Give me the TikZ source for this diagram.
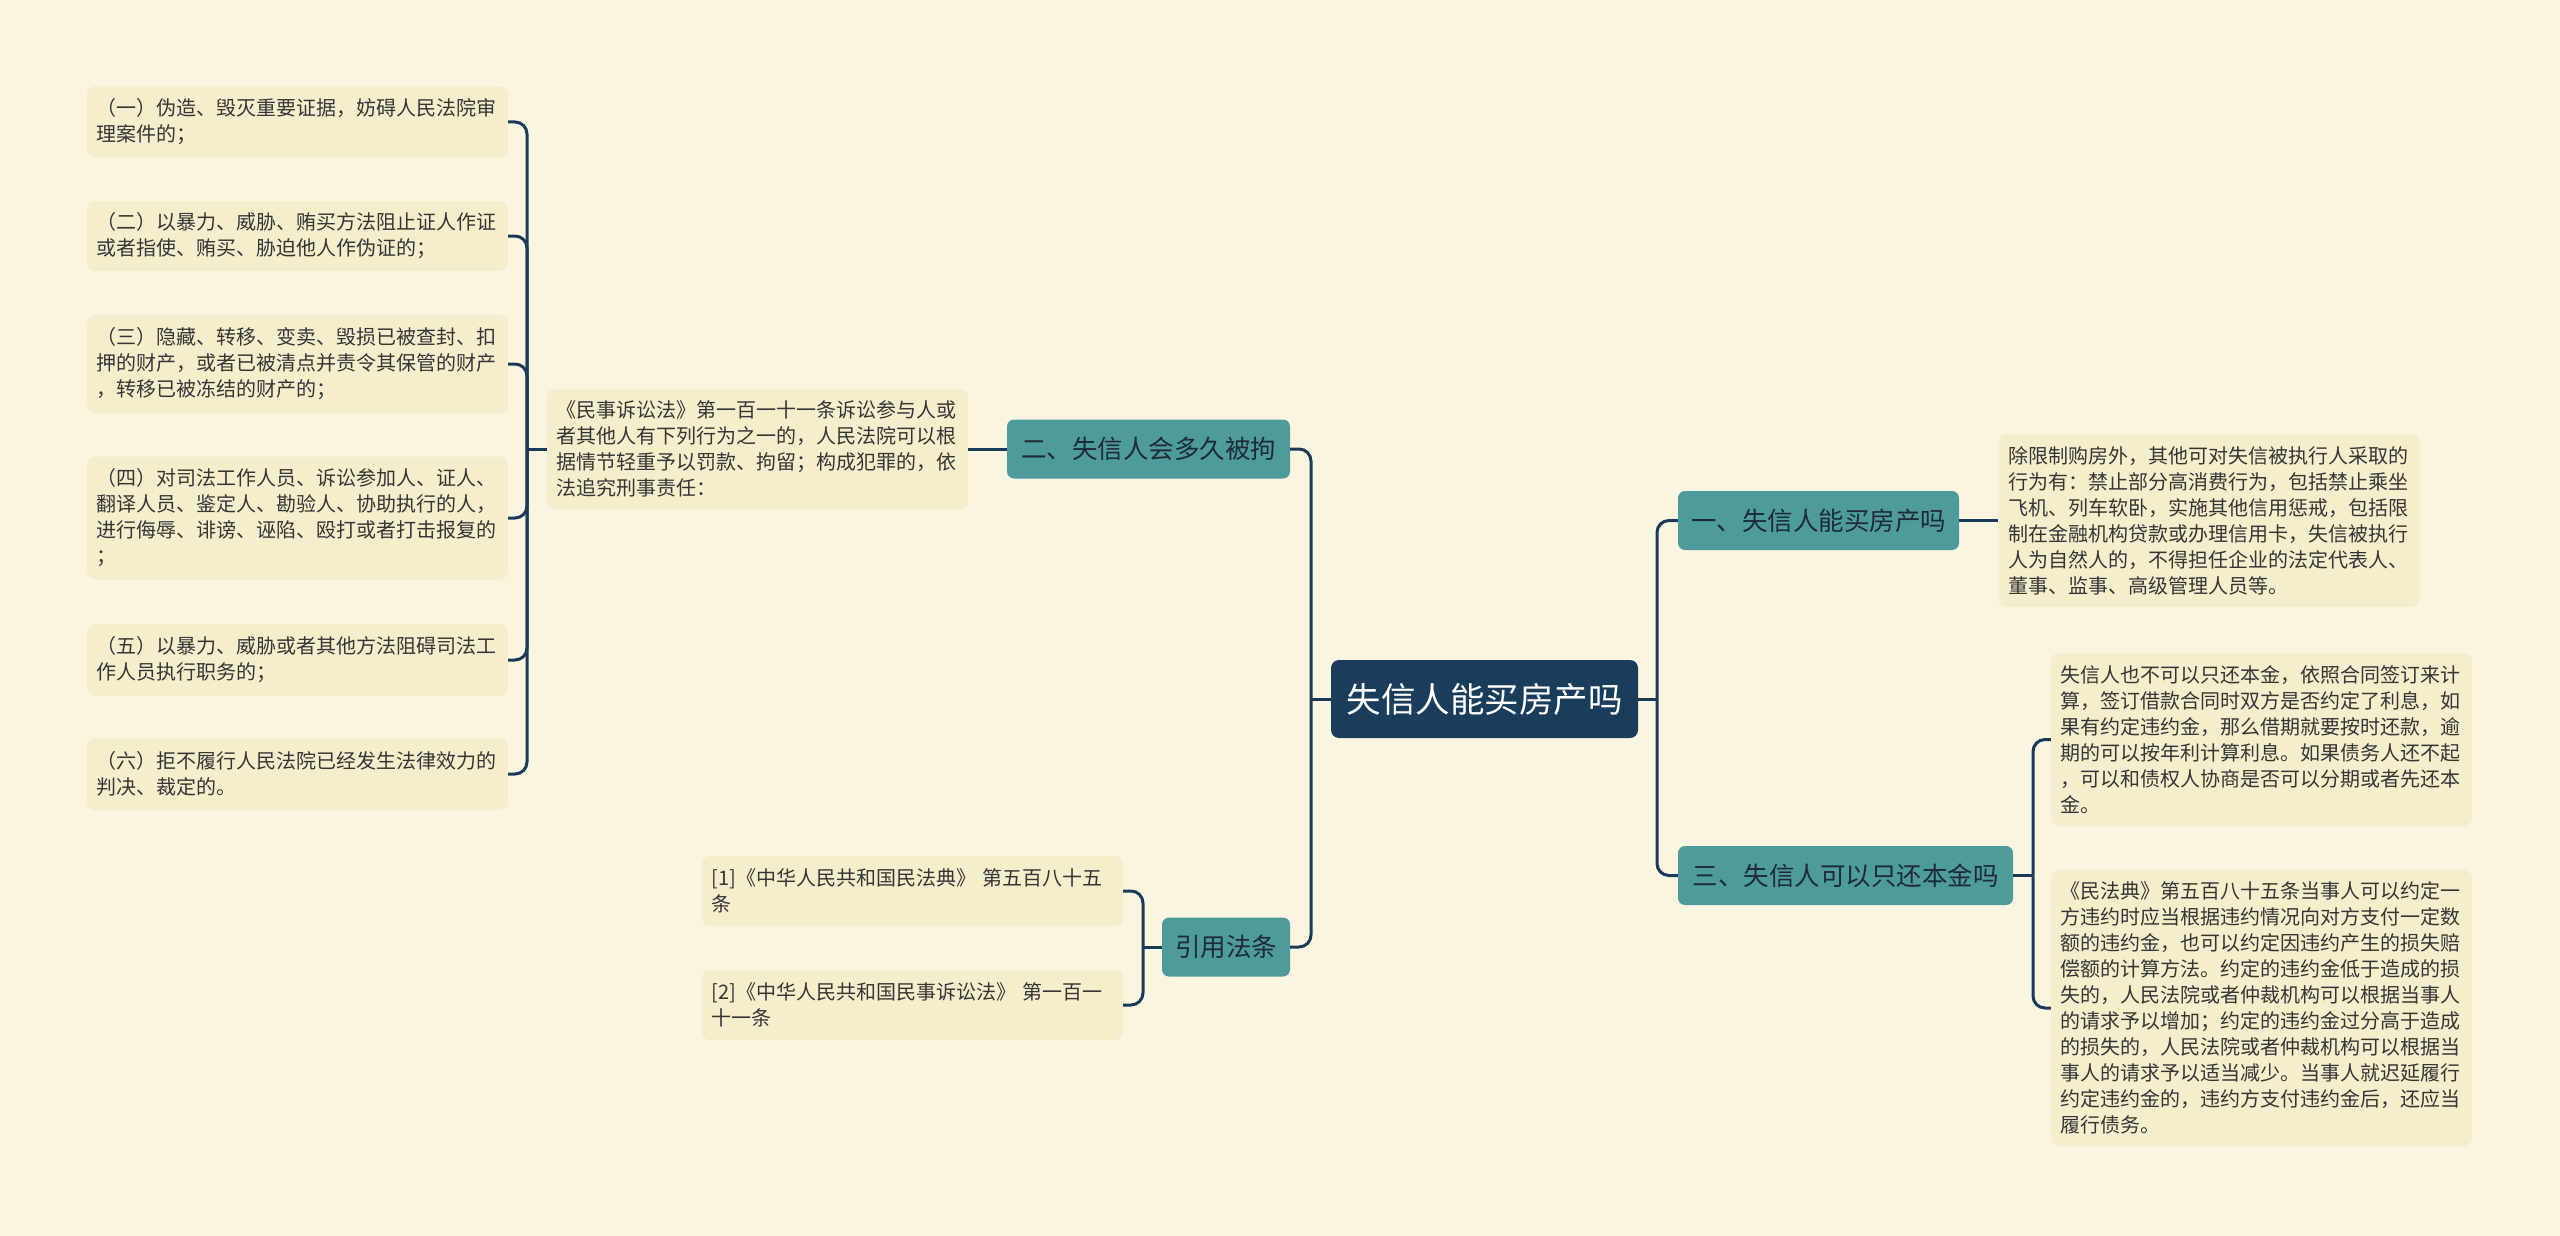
\documentclass[tikz,border=0pt]{standalone}
\usepackage{fontspec}
\setmainfont{Noto Sans CJK SC}
\definecolor{bgc}{HTML}{FAF5E1}
\definecolor{leafc}{HTML}{F5EECC}
\definecolor{tealc}{HTML}{4E9B9B}
\definecolor{navyc}{HTML}{1A3D5C}
\definecolor{linec}{HTML}{1B3A58}
\definecolor{txtc}{HTML}{353535}
\definecolor{brtxt}{HTML}{1E2B36}
\tikzset{
  leaf/.style={fill=leafc, rounded corners=8pt, text width=402pt, inner xsep=9.5pt, inner ysep=0pt, align=left, font=\fontsize{20}{26}\selectfont, text=txtc},
  branch/.style={fill=tealc, rounded corners=7pt, inner sep=0pt, font=\fontsize{25.5}{30}\selectfont, text=brtxt},
  root/.style={fill=navyc, rounded corners=8pt, inner sep=0pt, font=\fontsize{34.5}{40}\selectfont, text=white},
  conn/.style={draw=linec, line width=3pt, rounded corners=12pt}
}
\begin{document}
\begin{tikzpicture}[x=1pt,y=-1pt]
\fill[bgc] (0,0) rectangle (2560,1236);
\useasboundingbox (0,0) rectangle (2560,1236);

\coordinate (spL) at (1311,0);
\coordinate (spR) at (1657,0);
\coordinate (sp3) at (2033,0);
\coordinate (spS) at (527,0);
\coordinate (sp4) at (1143,0);

% root
\node[root, minimum width=307pt, minimum height=78pt] (C) at (1484.5,699) {失信人能买房产吗};

% branches
\node[branch, minimum width=281pt, minimum height=59pt] (B1) at (1818.5,520.5) {一、失信人能买房产吗};
\node[branch, minimum width=335pt, minimum height=59pt] (B3) at (1845.5,875.5) {三、失信人可以只还本金吗};
\node[branch, minimum width=283pt, minimum height=59pt] (B2) at (1148.5,449) {二、失信人会多久被拘};
\node[branch, minimum width=128pt, minimum height=59pt] (B4) at (1226,947) {引用法条};

% right leaves
\node[leaf, minimum height=173pt] (L1) at (2209,520.5) {除限制购房外，其他可对失信被执行人采取的\\行为有：禁止部分高消费行为，包括禁止乘坐\\飞机、列车软卧，实施其他信用惩戒，包括限\\制在金融机构贷款或办理信用卡，失信被执行\\人为自然人的，不得担任企业的法定代表人、\\董事、监事、高级管理人员等。};
\node[leaf, minimum height=173pt] (L31) at (2261.5,739.5) {失信人也不可以只还本金，依照合同签订来计\\算，签订借款合同时双方是否约定了利息，如\\果有约定违约金，那么借期就要按时还款，逾\\期的可以按年利计算利息。如果债务人还不起\\，可以和债权人协商是否可以分期或者先还本\\金。};
\node[leaf, minimum height=276pt] (L32) at (2261.5,1008) {《民法典》第五百八十五条当事人可以约定一\\方违约时应当根据违约情况向对方支付一定数\\额的违约金，也可以约定因违约产生的损失赔\\偿额的计算方法。约定的违约金低于造成的损\\失的，人民法院或者仲裁机构可以根据当事人\\的请求予以增加；约定的违约金过分高于造成\\的损失的，人民法院或者仲裁机构可以根据当\\事人的请求予以适当减少。当事人就迟延履行\\约定违约金的，违约方支付违约金后，还应当\\履行债务。};

% left leaves
\node[leaf, minimum height=120pt] (L2) at (757.5,449) {《民事诉讼法》第一百一十一条诉讼参与人或\\者其他人有下列行为之一的，人民法院可以根\\据情节轻重予以罚款、拘留；构成犯罪的，依\\法追究刑事责任：};
\node[leaf, minimum height=71pt] (S1) at (297.5,122) {（一）伪造、毁灭重要证据，妨碍人民法院审\\理案件的；};
\node[leaf, minimum height=70pt] (S2) at (297.5,236) {（二）以暴力、威胁、贿买方法阻止证人作证\\或者指使、贿买、胁迫他人作伪证的；};
\node[leaf, minimum height=98pt] (S3) at (297.5,364) {（三）隐藏、转移、变卖、毁损已被查封、扣\\押的财产，或者已被清点并责令其保管的财产\\，转移已被冻结的财产的；};
\node[leaf, minimum height=123pt] (S4) at (297.5,518) {（四）对司法工作人员、诉讼参加人、证人、\\翻译人员、鉴定人、勘验人、协助执行的人，\\进行侮辱、诽谤、诬陷、殴打或者打击报复的\\；};
\node[leaf, minimum height=72pt] (S5) at (297.5,660) {（五）以暴力、威胁或者其他方法阻碍司法工\\作人员执行职务的；};
\node[leaf, minimum height=72pt] (S6) at (297.5,774) {（六）拒不履行人民法院已经发生法律效力的\\判决、裁定的。};
\node[leaf, minimum height=70pt] (R1) at (912.5,891) {[1]《中华人民共和国民法典》 第五百八十五\\条};
\node[leaf, minimum height=70pt] (R2) at (912.5,1005) {[2]《中华人民共和国民事诉讼法》 第一百一\\十一条};

% connectors: root
\draw[conn] (C.west) -- (C.west -| spL);
\draw[conn] (C.west -| spL) |- (B2.east);
\draw[conn] (C.west -| spL) |- (B4.east);
\draw[conn] (C.east) -- (C.east -| spR);
\draw[conn] (C.east -| spR) |- (B1.west);
\draw[conn] (C.east -| spR) |- (B3.west);

% B1
\draw[conn] (B1.east) -- (L1.west);
% B3
\draw[conn] (B3.east) -- (B3.east -| sp3);
\draw[conn] (B3.east -| sp3) |- (L31.west);
\draw[conn] (B3.east -| sp3) |- (L32.west);
% B2
\draw[conn] (B2.west) -- (L2.east);
\draw[conn] (L2.west) -- (L2.west -| spS);
\foreach \s in {S1,S2,S3,S4,S5,S6}{
  \draw[conn] (L2.west -| spS) |- (\s.east);
}
% B4
\draw[conn] (B4.west) -- (B4.west -| sp4);
\draw[conn] (B4.west -| sp4) |- (R1.east);
\draw[conn] (B4.west -| sp4) |- (R2.east);
\end{tikzpicture}
\end{document}
